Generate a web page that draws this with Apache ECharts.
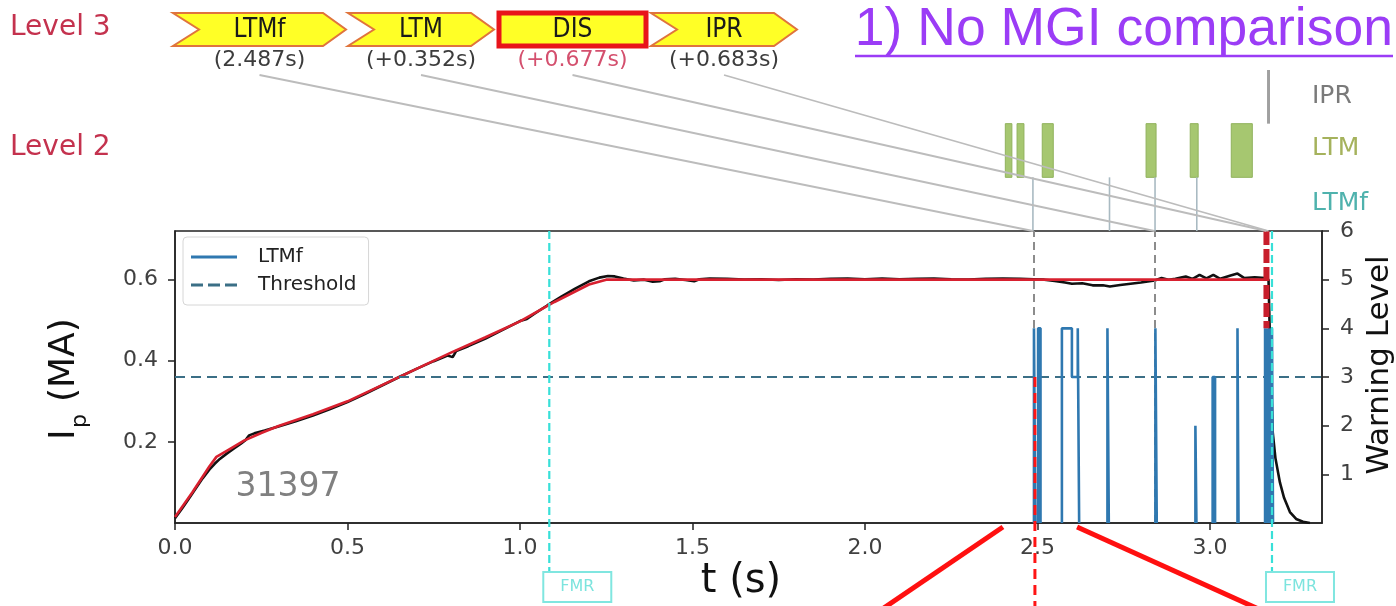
<!DOCTYPE html>
<html>
<head>
<meta charset="utf-8">
<script src="https://cdn.jsdelivr.net/npm/echarts@6/dist/echarts.min.js"></script>
<style>
html,body{margin:0;padding:0;background:#fff;}
#c{width:1396px;height:606px;}
</style>
</head>
<body>
<div id="c"></div>
<script>
// Shot 31397: plasma current, LTMf warning level and the alarm chain that follows it.

const TIME_MAX = 3.325;
const xTicks = [0, 0.5, 1.0, 1.5, 2.0, 2.5, 3.0];
const ipTicks = [0.2, 0.4, 0.6];
const levelTicks = [1, 2, 3, 4, 5, 6];
const shotNumber = '31397';

// Measured plasma current [t (s), Ip (MA)]
const ipMeasured = [
  [0.000,0.012],[0.020,0.035],[0.040,0.060],[0.060,0.085],[0.080,0.110],[0.100,0.132],
  [0.115,0.146],[0.130,0.158],[0.150,0.171],[0.170,0.183],[0.190,0.195],[0.205,0.205],
  [0.215,0.216],[0.230,0.221],[0.260,0.228],[0.300,0.238],[0.350,0.251],[0.400,0.265],
  [0.450,0.281],[0.500,0.298],[0.550,0.318],[0.600,0.339],[0.650,0.360],[0.700,0.380],
  [0.750,0.399],[0.790,0.413],[0.805,0.409],[0.815,0.424],[0.850,0.436],[0.900,0.455],
  [0.950,0.476],[1.000,0.498],[1.020,0.503],[1.040,0.515],[1.080,0.537],[1.120,0.558],
  [1.160,0.578],[1.200,0.596],[1.230,0.605],[1.255,0.609],[1.275,0.608],[1.300,0.603],
  [1.330,0.598],[1.360,0.600],[1.385,0.595],[1.405,0.596],[1.420,0.601],[1.450,0.602],
  [1.480,0.599],[1.505,0.596],[1.520,0.601],[1.550,0.603],[1.600,0.602],[1.650,0.600],
  [1.700,0.601],[1.750,0.599],[1.800,0.601],[1.850,0.600],[1.900,0.602],[1.950,0.603],
  [2.000,0.601],[2.050,0.603],[2.100,0.601],[2.150,0.602],[2.200,0.603],[2.250,0.601],
  [2.300,0.600],[2.350,0.602],[2.400,0.603],[2.450,0.602],[2.490,0.601],[2.520,0.600],
  [2.550,0.597],[2.580,0.593],[2.600,0.590],[2.630,0.591],[2.660,0.586],[2.690,0.586],
  [2.710,0.583],[2.740,0.587],[2.770,0.590],[2.800,0.593],[2.840,0.598],[2.860,0.604],
  [2.880,0.600],[2.900,0.602],[2.930,0.608],[2.950,0.602],[2.970,0.612],[2.990,0.603],
  [3.010,0.612],[3.030,0.602],[3.060,0.610],[3.080,0.615],[3.100,0.604],[3.130,0.606],
  [3.160,0.604],[3.170,0.600],[3.175,0.420],[3.182,0.225],[3.190,0.160],[3.203,0.100],
  [3.215,0.062],[3.232,0.027],[3.250,0.010],[3.270,0.003],[3.290,0.000]
];

// Reference plasma current [t (s), Ip (MA)]
const ipReference = [
  [0.000,0.015],[0.050,0.075],[0.100,0.140],[0.120,0.163],[0.150,0.178],[0.200,0.203],
  [0.250,0.222],[0.300,0.239],[0.400,0.268],[0.500,0.300],[0.600,0.340],[0.700,0.380],
  [0.800,0.420],[0.900,0.458],[1.000,0.497],[1.100,0.545],[1.200,0.588],[1.250,0.600],
  [1.600,0.600],[2.000,0.600],[2.400,0.600],[2.800,0.600],[3.164,0.600]
];

// LTMf warning level segments [t start, t end, level]; touching segments form one pulse
const ltmfSegments = [
  [2.490,2.494,4],[2.502,2.509,4],
  [2.571,2.600,4],[2.600,2.617,3],[2.617,2.621,4],
  [2.703,2.707,4],
  [2.842,2.846,4],
  [2.958,2.961,2],
  [3.008,3.015,3],
  [3.080,3.083,4],
  [3.160,3.163,4],[3.165,3.168,4],[3.170,3.173,4],[3.175,3.178,4],[3.180,3.183,4]
];
const thresholdLevel = 3;

// Level 2 detector activity
const ltmIntervals = [[2.407,2.426],[2.441,2.461],[2.514,2.546],[2.815,2.844],[2.943,2.966],[3.062,3.123]];
const ltmfRowMarks = [2.487, 2.709, 2.841, 2.962];
const iprRowMarks = [3.170];
const rowNames = ['LTMf', 'LTM', 'IPR'];

// Level 3 alarm chain
const chainNames = ['LTMf', 'LTM', 'DIS', 'IPR'];
const firstAlarm = 2.487;
const chainOffsets = [0, 0.352, 0.677, 0.683];

// Flux-mode reconstruction times
const fmrTimes = [1.085, 3.180];

const FONT = 'DejaVu Sans';

function ltmfPolyline(segs) {
  const pts = [];
  let prevEnd = null;
  segs.forEach(([a, b, l]) => {
    if (prevEnd !== null && Math.abs(a - prevEnd) < 1e-9) {
      pts.push([a, l]);
    } else {
      if (prevEnd !== null) { pts.push([prevEnd, 0]); pts.push([prevEnd, '-']); }
      pts.push([a, 0]);
      pts.push([a, l]);
    }
    pts.push([b, l]);
    prevEnd = b;
  });
  pts.push([prevEnd, 0]);
  return pts;
}

const chainTimes = chainOffsets.map(o => firstAlarm + o);

const chart = echarts.init(document.getElementById('c'));

const axisCol = '#222';
const tickLabel = { fontSize: 22, color: '#404040', fontFamily: FONT };

// legend glyphs: a solid stroke and a dashed stroke
const solidIcon = 'path://M0,0h46v3h-46z';
const dashedIcon = 'path://M0,0h12v3h-12z M17,0h12v3h-12z M34,0h12v3h-12z';

chart.setOption({
  animation: false,
  backgroundColor: '#fff',
  textStyle: { fontFamily: FONT },
  grid: [
    { left: 175, right: 74, top: 231, bottom: 83, show: true, borderColor: axisCol, borderWidth: 1.5 },
    { left: 175, right: 74, top: 70, height: 161, show: false }
  ],
  legend: {
    data: [{ name: 'LTMf', icon: solidIcon }, { name: 'Threshold', icon: dashedIcon }],
    orient: 'vertical',
    left: 183, top: 237,
    itemWidth: 46, itemHeight: 3, itemGap: 6,
    padding: [9, 12, 9, 8],
    backgroundColor: 'rgba(255,255,255,0.92)',
    borderColor: '#d6d6d6', borderWidth: 1, borderRadius: 4,
    textStyle: { fontSize: 20, color: '#222', fontFamily: FONT, padding: [0, 0, 0, 16], lineHeight: 22 }
  },
  xAxis: [
    {
      gridIndex: 0, type: 'value', min: 0, max: TIME_MAX,
      axisLine: { show: true, onZero: false, lineStyle: { color: axisCol, width: 1.5 } },
      axisTick: { show: true, length: 7, customValues: xTicks, lineStyle: { color: axisCol, width: 1.5 } },
      axisLabel: { customValues: xTicks, formatter: v => v.toFixed(1), margin: 14, ...tickLabel },
      splitLine: { show: false }
    },
    { gridIndex: 1, type: 'value', min: 0, max: TIME_MAX, show: false }
  ],
  yAxis: [
    {
      gridIndex: 0, type: 'value', min: 0, max: 0.72, position: 'left',
      axisLine: { show: true, onZero: false, lineStyle: { color: axisCol, width: 1.5 } },
      axisTick: { show: true, length: 7, customValues: ipTicks, lineStyle: { color: axisCol, width: 1.5 } },
      axisLabel: { customValues: ipTicks, formatter: v => v.toFixed(1), margin: 17, ...tickLabel },
      splitLine: { show: false }
    },
    {
      gridIndex: 0, type: 'value', min: 0, max: 6, position: 'right',
      axisLine: { show: true, onZero: false, lineStyle: { color: axisCol, width: 1.5 } },
      axisTick: { show: true, length: 7, customValues: levelTicks, lineStyle: { color: axisCol, width: 1.5 } },
      axisLabel: { customValues: levelTicks, formatter: v => String(v), margin: 18, ...tickLabel },
      splitLine: { show: false }
    },
    { gridIndex: 1, type: 'value', min: 0, max: 3, show: false }
  ],
  series: [
    {
      name: 'Ip measured', type: 'line', xAxisIndex: 0, yAxisIndex: 0,
      data: ipMeasured, showSymbol: false, symbol: 'none', z: 2,
      lineStyle: { color: '#111', width: 2.6 }
    },
    {
      name: 'Ip reference', type: 'line', xAxisIndex: 0, yAxisIndex: 0,
      data: ipReference, showSymbol: false, symbol: 'none', z: 3,
      lineStyle: { color: '#d8202f', width: 2.6 }
    },
    {
      name: 'Threshold', type: 'line', xAxisIndex: 0, yAxisIndex: 1,
      data: [[0, thresholdLevel], [TIME_MAX, thresholdLevel]],
      showSymbol: false, symbol: 'none', z: 4,
      itemStyle: { color: '#3b6f86' },
      lineStyle: { color: '#3b6f86', width: 2, type: [10, 6] }
    },
    {
      name: 'LTMf', type: 'line', xAxisIndex: 0, yAxisIndex: 1,
      data: ltmfPolyline(ltmfSegments), showSymbol: false, symbol: 'none', z: 5,
      connectNulls: false,
      itemStyle: { color: '#2f78b0' },
      lineStyle: { color: '#2f78b0', width: 2.6 },
      markLine: {
        silent: true, symbol: ['none', 'none'], label: { show: false },
        lineStyle: { color: '#8c8c8c', width: 2, type: [8, 5] },
        data: chainTimes.slice(0, 2).map(t => ({ xAxis: t }))
      }
    },
    {
      name: 'LTM activity', type: 'custom', xAxisIndex: 1, yAxisIndex: 2,
      data: ltmIntervals, encode: { x: [0, 1] },
      renderItem: (params, api) => {
        const p0 = api.coord([api.value(0), 2]);
        const p1 = api.coord([api.value(1), 1]);
        return { type: 'rect', shape: { x: p0[0], y: p0[1], width: p1[0] - p0[0], height: p1[1] - p0[1] },
                 style: { fill: '#a6c770', stroke: '#90b25c', lineWidth: 1 } };
      }
    },
    {
      name: 'LTMf activity', type: 'custom', xAxisIndex: 1, yAxisIndex: 2,
      data: ltmfRowMarks.map(t => [t]), encode: { x: 0 },
      renderItem: (params, api) => {
        const p0 = api.coord([api.value(0), 1]);
        const p1 = api.coord([api.value(0), 0]);
        return { type: 'line', shape: { x1: p0[0], y1: p0[1], x2: p1[0], y2: p1[1] },
                 style: { stroke: '#a9bac2', lineWidth: 1.6 } };
      }
    },
    {
      name: 'IPR activity', type: 'custom', xAxisIndex: 1, yAxisIndex: 2,
      data: iprRowMarks.map(t => [t]), encode: { x: 0 },
      renderItem: (params, api) => {
        const p0 = api.coord([api.value(0), 3]);
        const p1 = api.coord([api.value(0), 2]);
        return { type: 'line', shape: { x1: p0[0], y1: p0[1], x2: p1[0], y2: p1[1] },
                 style: { stroke: '#a0a0a0', lineWidth: 3 } };
      }
    }
  ]
});

// Annotations positioned through the chart's own axes
const px = t => chart.convertToPixel({ xAxisIndex: 0 }, t);
const pyLevel = l => chart.convertToPixel({ yAxisIndex: 1 }, l);
const plotTop = pyLevel(6);
const plotBottom = pyLevel(0);

const g = [];
const txt = (x, y, text, opt) => ({
  type: 'text', x, y, z: 100,
  style: Object.assign({ text, fontFamily: FONT, align: 'center', verticalAlign: 'middle',
                         textAlign: 'center', textVerticalAlign: 'middle' }, opt)
});

// Title
g.push(txt(1393, 30, '1) No MGI comparison', { fontFamily: 'Liberation Sans', fontSize: 53.5, fill: '#9b3cf6', align: 'right', textAlign: 'right' }));
g.push({ type: 'line', z: 100, shape: { x1: 855, y1: 56, x2: 1393, y2: 56 }, style: { stroke: '#9b3cf6', lineWidth: 2.5 } });

// Level captions
g.push(txt(10, 28, 'Level 3', { fontSize: 28, fill: '#c4324e', align: 'left', textAlign: 'left' }));
g.push(txt(10, 148, 'Level 2', { fontSize: 28, fill: '#c4324e', align: 'left', textAlign: 'left' }));

// Level 2 row names
const rowColors = { LTMf: '#4fb2ad', LTM: '#a5b25c', IPR: '#7a7a7a' };
const rowCenters = { LTMf: 203, LTM: 148, IPR: 96 };
rowNames.forEach(n => g.push(txt(1312, rowCenters[n], n, { fontSize: 25, fill: rowColors[n], align: 'left', textAlign: 'left' })));

// Level 3 alarm chain boxes
const boxSpans = [[173, 346], [348, 494], [497, 648], [651, 797]];
const bTop = 13, bBot = 46, bMid = 29.5, notch = 26, tip = 23;
chainNames.forEach((name, i) => {
  const [x0, x1] = boxSpans[i];
  if (name === 'DIS') {
    g.push({ type: 'rect', z: 99, shape: { x: x0 + 2, y: bTop, width: x1 - x0 - 4, height: bBot - bTop },
             style: { fill: '#ffff26', stroke: '#e8141a', lineWidth: 5 } });
  } else {
    g.push({ type: 'polygon', z: 99,
             shape: { points: [[x0, bTop], [x1 - tip, bTop], [x1, bMid], [x1 - tip, bBot], [x0, bBot], [x0 + notch, bMid]] },
             style: { fill: '#ffff26', stroke: '#e0743c', lineWidth: 2 } });
  }
  const cx = (x0 + x1) / 2;
  g.push(txt(cx, bMid + 1, name, { fontFamily: 'DejaVu Sans Condensed', fontSize: 26, fill: '#1a1a1a' }));
  const label = i === 0 ? '(' + firstAlarm.toFixed(3) + 's)' : '(+' + chainOffsets[i].toFixed(3) + 's)';
  g.push(txt(cx, 60, label, { fontSize: 22, fill: name === 'DIS' ? '#d4506e' : '#3c3c3c' }));
  // connector from the chain label to the alarm time on the plot
  g.push({ type: 'line', z: 98, shape: { x1: cx, y1: 75, x2: px(chainTimes[i]), y2: plotTop },
           style: { stroke: '#bcbcbc', lineWidth: 1.8 } });
});

// Disruption mark on the warning-level axis
g.push({ type: 'line', z: 90, shape: { x1: px(chainTimes[2]), y1: pyLevel(6), x2: px(chainTimes[2]), y2: pyLevel(4) },
         style: { stroke: '#c81e2c', lineWidth: 6, lineDash: [14, 4] } });

// FMR markers
fmrTimes.forEach(t => {
  const x = px(t);
  g.push({ type: 'line', z: 95, shape: { x1: x, y1: plotTop, x2: x, y2: 572 },
           style: { stroke: '#38e0d8', lineWidth: 2.2, lineDash: [8, 4] } });
  g.push({ type: 'rect', z: 96, shape: { x: x - 6, y: 572, width: 68, height: 30 },
           style: { fill: '#fff', stroke: '#80e6e0', lineWidth: 2 } });
  g.push(txt(x + 28, 587, 'FMR', { fontSize: 16, fill: '#7ce4de' }));
});

// Shot number
g.push(txt(288, 487, shotNumber, { fontSize: 33, fill: '#808080' }));

// Axis titles
g.push({ type: 'group', x: 65, y: 440, rotation: Math.PI / 2, z: 100, children: [
  { type: 'text', x: 0, y: 0, style: { text: 'I', fontFamily: FONT, fontSize: 36, fill: '#111', align: 'left', verticalAlign: 'middle' } },
  { type: 'text', x: 12, y: 15, style: { text: 'p', fontFamily: FONT, fontSize: 22, fill: '#111', align: 'left', verticalAlign: 'middle' } },
  { type: 'text', x: 38, y: 0, style: { text: '(MA)', fontFamily: FONT, fontSize: 36, fill: '#111', align: 'left', verticalAlign: 'middle' } }
]});
g.push({ type: 'text', x: 1380, y: 365, rotation: Math.PI / 2, z: 100,
         style: { text: 'Warning Level', fontFamily: FONT, fontSize: 31, fill: '#111', align: 'center', verticalAlign: 'middle' } });
g.push(txt(741, 582, 't (s)', { fontSize: 40, fill: '#111' }));

// Zoom call-out below the first LTMf alarm
const xa = px(firstAlarm);
g.push({ type: 'line', z: 110, shape: { x1: xa + 2, y1: pyLevel(thresholdLevel), x2: xa + 2, y2: 606 },
         style: { stroke: '#ff1414', lineWidth: 3, lineDash: [10, 6] } });
const xl = px(2.40), xr = px(2.615);
g.push({ type: 'line', z: 110, shape: { x1: xl, y1: plotBottom + 4, x2: xl - 125, y2: 612 },
         style: { stroke: '#ff1010', lineWidth: 5 } });
g.push({ type: 'line', z: 110, shape: { x1: xr, y1: plotBottom + 4, x2: xr + 188, y2: 612 },
         style: { stroke: '#ff1010', lineWidth: 5 } });

chart.setOption({ graphic: g });
</script>
</body>
</html>
